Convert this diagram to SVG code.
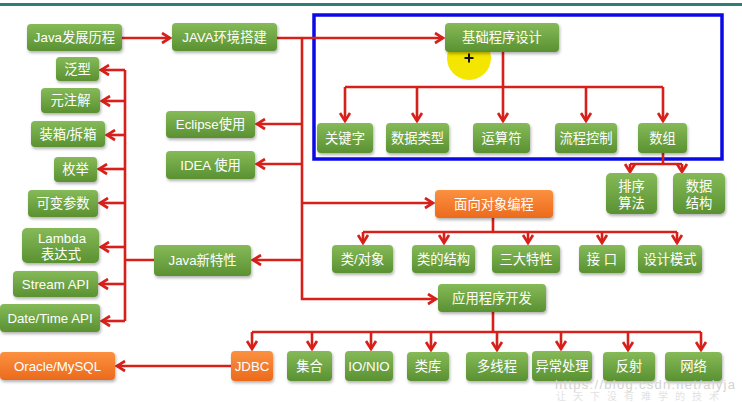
<svg xmlns="http://www.w3.org/2000/svg" width="742" height="402" viewBox="0 0 742 402">
<defs>
<linearGradient id="gG" x1="0" y1="0" x2="0" y2="1"><stop offset="0" stop-color="#86ba58"/><stop offset="1" stop-color="#5a9131"/></linearGradient>
<linearGradient id="gO" x1="0" y1="0" x2="0" y2="1"><stop offset="0" stop-color="#fb9140"/><stop offset="1" stop-color="#ec6a1c"/></linearGradient>
<filter id="sh" x="-10%" y="-20%" width="125%" height="150%"><feDropShadow dx="1" dy="2" stdDeviation="1.5" flood-color="#000" flood-opacity="0.3"/></filter>
<marker id="ar" markerUnits="userSpaceOnUse" markerWidth="13" markerHeight="13" viewBox="0 0 13 13" refX="10" refY="6.5" orient="auto"><path d="M2,1.5 L10,6.5 L2,11.5" fill="none" stroke="#d8201b" stroke-width="2.7"/></marker>
</defs>
<style>
.n rect{fill:url(#gG);filter:url(#sh)}
.o rect{fill:url(#gO);filter:url(#sh)}
.n text,.o text{fill:#fff;font-family:"Liberation Sans","Noto Sans CJK SC",sans-serif;font-size:13.3px;text-anchor:middle;dominant-baseline:central}
.c path{fill:none;stroke:#d8201b;stroke-width:2.6}
.c .a{marker-end:url(#ar)}
.wm{font-family:"Liberation Sans","Noto Sans CJK SC",sans-serif}
</style>
<rect x="0" y="0" width="742" height="402" fill="#fff"/>
<rect x="0" y="3" width="742" height="3" fill="#2f7d78"/>
<rect x="314" y="15" width="408" height="144" fill="none" stroke="#0a0ae6" stroke-width="3.5"/>
<circle cx="469" cy="58" r="22" fill="#f4e600"/>
<path d="M464.5,58 H473.5 M469,53.5 V62.5" stroke="#111" stroke-width="2"/>
<g class="c">
<path class="a" d="M122,38 H170"/>
<path class="a" d="M277,38 H443"/>
<path class="a" d="M302,38 V299 H436"/>
<path class="a" d="M302,124 H257"/>
<path class="a" d="M302,164 H257"/>
<path class="a" d="M302,203 H433"/>
<path class="a" d="M302,260 H253"/>
<path d="M503,52 V87 M345,87 H663"/>
<path class="a" d="M345,87 V121"/>
<path class="a" d="M417,87 V121"/>
<path class="a" d="M503,87 V121"/>
<path class="a" d="M586,87 V121"/>
<path class="a" d="M663,87 V121"/>
<path d="M663,153 V164 M630,164 H682"/>
<path class="a" d="M630,164 V172"/>
<path class="a" d="M682,164 V172"/>
<path d="M493,218 V232 M363,232 H677"/>
<path class="a" d="M363,232 V243"/>
<path class="a" d="M444,232 V243"/>
<path class="a" d="M528,232 V243"/>
<path class="a" d="M602,232 V243"/>
<path class="a" d="M677,232 V243"/>
<path d="M493,312 V332 M252,332 H701"/>
<path class="a" d="M252,332 V349"/>
<path class="a" d="M312,332 V349"/>
<path class="a" d="M371,332 V349"/>
<path class="a" d="M431,332 V350"/>
<path class="a" d="M497,332 V350"/>
<path class="a" d="M561,332 V349"/>
<path class="a" d="M628,332 V350"/>
<path class="a" d="M701,332 V350"/>
<path class="a" d="M231,366 H117"/>
<path d="M154,260 H125 M125,70 V321"/>
<path class="a" d="M125,70 H101"/>
<path class="a" d="M125,101 H102"/>
<path class="a" d="M125,135 H107"/>
<path class="a" d="M125,169 H99"/>
<path class="a" d="M125,203 H100"/>
<path class="a" d="M125,247 H101"/>
<path class="a" d="M125,284 H100"/>
<path class="a" d="M125,321 H102"/>
</g>
<g id="java-history" class="n"><rect x="27" y="24" width="95" height="27" rx="4"/><text x="74.5" y="37.5">Java发展历程</text></g>
<g id="java-env" class="n"><rect x="172" y="23" width="105" height="28" rx="4"/><text x="224.5" y="37">JAVA环境搭建</text></g>
<g id="basic" class="n"><rect x="445" y="23" width="114" height="29" rx="4"/><text x="502" y="37.5">基础程序设计</text></g>
<g id="keyword" class="n"><rect x="317" y="123" width="56" height="30" rx="4"/><text x="345" y="138">关键字</text></g>
<g id="datatype" class="n"><rect x="386" y="123" width="63" height="30" rx="4"/><text x="417.5" y="138">数据类型</text></g>
<g id="operator" class="n"><rect x="473" y="123" width="57" height="30" rx="4"/><text x="501.5" y="138">运算符</text></g>
<g id="flow" class="n"><rect x="555" y="123" width="62" height="30" rx="4"/><text x="586" y="138">流程控制</text></g>
<g id="array" class="n"><rect x="638" y="123" width="49" height="30" rx="4"/><text x="662.5" y="138">数组</text></g>
<g id="sort" class="n"><rect x="606" y="173" width="51" height="41" rx="5"/><text x="631.5" y="186">排序</text><text x="631.5" y="203">算法</text></g>
<g id="ds" class="n"><rect x="673" y="173" width="52" height="41" rx="5"/><text x="699" y="186">数据</text><text x="699" y="203">结构</text></g>
<g id="eclipse" class="n"><rect x="166" y="111" width="89" height="27" rx="4"/><text x="210.5" y="124.5">Eclipse使用</text></g>
<g id="idea" class="n"><rect x="166" y="151" width="89" height="28" rx="4"/><text x="210.5" y="165">IDEA 使用</text></g>
<g id="oop" class="o"><rect x="435" y="190" width="118" height="28" rx="4"/><text x="494" y="204">面向对象编程</text></g>
<g id="class-obj" class="n"><rect x="332" y="245" width="61" height="28" rx="4"/><text x="362.5" y="259">类/对象</text></g>
<g id="class-struct" class="n"><rect x="412" y="245" width="63" height="28" rx="4"/><text x="443.5" y="259">类的结构</text></g>
<g id="three" class="n"><rect x="492" y="245" width="68" height="28" rx="4"/><text x="526" y="259">三大特性</text></g>
<g id="interface" class="n"><rect x="579" y="245" width="46" height="28" rx="4"/><text x="602" y="259">接 口</text></g>
<g id="pattern" class="n"><rect x="638" y="245" width="64" height="28" rx="4"/><text x="670" y="259">设计模式</text></g>
<g id="app" class="n"><rect x="438" y="284" width="108" height="28" rx="4"/><text x="492" y="298">应用程序开发</text></g>
<g id="jdbc" class="o"><rect x="231" y="351" width="42" height="30" rx="4"/><text x="252" y="366">JDBC</text></g>
<g id="collection" class="n"><rect x="287" y="351" width="45" height="30" rx="4"/><text x="309.5" y="366">集合</text></g>
<g id="io" class="n"><rect x="345" y="351" width="48" height="30" rx="4"/><text x="369" y="366">IO/NIO</text></g>
<g id="lib" class="n"><rect x="407" y="352" width="42" height="29" rx="4"/><text x="428" y="366.5">类库</text></g>
<g id="thread" class="n"><rect x="466" y="352" width="62" height="29" rx="4"/><text x="497" y="366.5">多线程</text></g>
<g id="exception" class="n"><rect x="532" y="351" width="60" height="30" rx="4"/><text x="562" y="366">异常处理</text></g>
<g id="reflect" class="n"><rect x="603" y="352" width="52" height="29" rx="4"/><text x="629" y="366.5">反射</text></g>
<g id="net" class="n"><rect x="665" y="352" width="57" height="29" rx="4"/><text x="693.5" y="366.5">网络</text></g>
<g id="db" class="o"><rect x="0" y="352" width="115" height="28" rx="4"/><text x="57.5" y="366">Oracle/MySQL</text></g>
<g id="newfeat" class="n"><rect x="154" y="245" width="97" height="31" rx="4"/><text x="202.5" y="260.5">Java新特性</text></g>
<g id="generic" class="n"><rect x="56" y="57" width="43" height="24" rx="4"/><text x="77.5" y="69">泛型</text></g>
<g id="annotation" class="n"><rect x="41" y="88" width="59" height="25" rx="4"/><text x="70.5" y="100.5">元注解</text></g>
<g id="boxing" class="n"><rect x="31" y="121" width="74" height="26" rx="4"/><text x="68" y="134">装箱/拆箱</text></g>
<g id="enum" class="n"><rect x="54" y="157" width="43" height="25" rx="4"/><text x="75.5" y="169.5">枚举</text></g>
<g id="varargs" class="n"><rect x="28" y="190" width="70" height="27" rx="4"/><text x="63" y="203.5">可变参数</text></g>
<g id="lambda" class="n"><rect x="22" y="228" width="77" height="35" rx="5"/><text x="62" y="238.5">Lambda</text><text x="61" y="254.5">表达式</text></g>
<g id="stream" class="n"><rect x="13" y="271" width="85" height="26" rx="4"/><text x="55.5" y="284">Stream API</text></g>
<g id="datetime" class="n"><rect x="0" y="304" width="100" height="28" rx="4"/><text x="50" y="318">Date/Time API</text></g>
<text class="wm" x="555" y="389" font-size="13" fill="#d4d4d4" textLength="180">https://blog.csdn.net/alyja</text>
<text class="wm" x="556" y="400" font-size="10" fill="#e2e2e2" letter-spacing="7">让天下没有难学的技术</text>
</svg>
